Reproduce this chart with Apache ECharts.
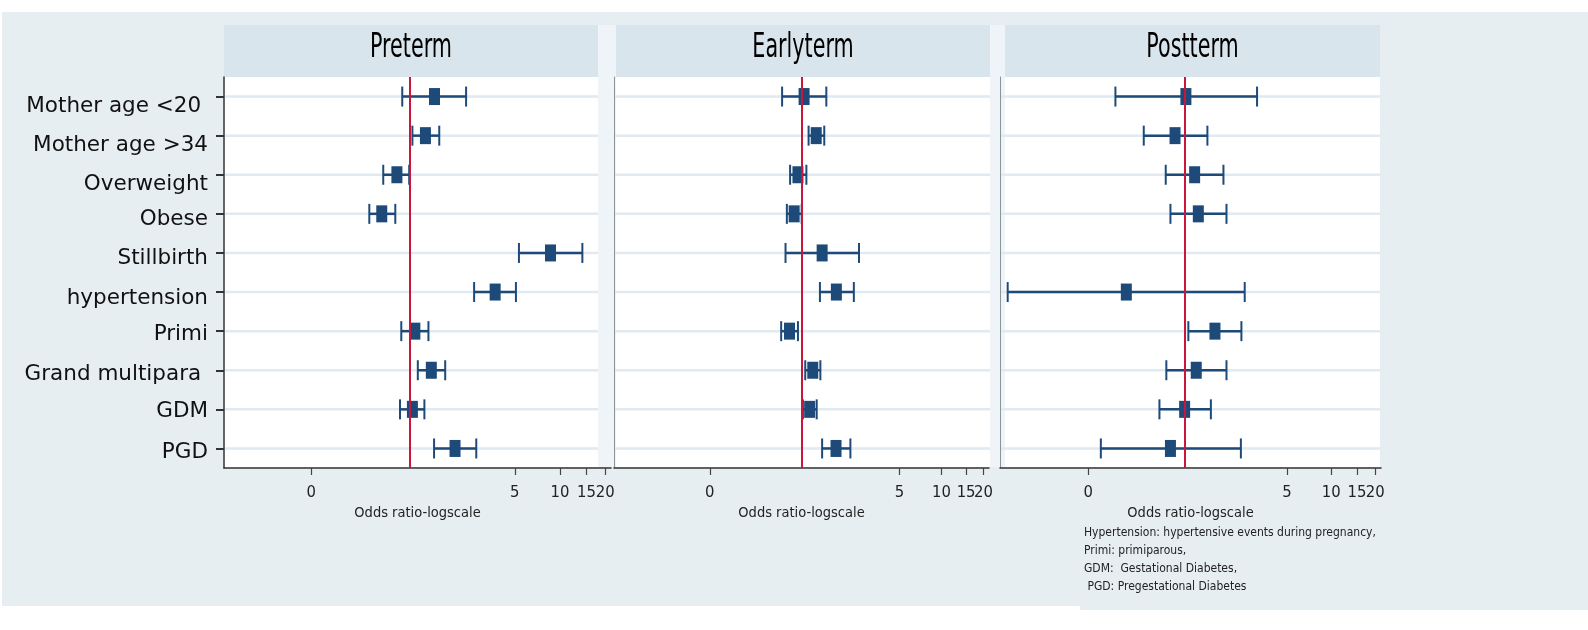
<!DOCTYPE html>
<html lang="en">

<head>
  <meta charset="UTF-8">
  <title>Odds ratios by term</title>
  <style>
    body {
      margin: 0;
      background: #fff;
    }

    #chart {
      width: 1588px;
      height: 630px;
    }
  </style>
  <script src="https://cdn.jsdelivr.net/npm/echarts@6/dist/echarts.min.js"></script>
</head>

<body>
  <div id="chart"></div>
  <script>
    // ---- data (odds ratios) ----
    var categories = ['Mother age <20 ', 'Mother age >34', 'Overweight', 'Obese', 'Stillbirth',
      'hypertension', 'Primi', 'Grand multipara ', 'GDM', 'PGD'];
    var panelTitles = ['Preterm', 'Earlyterm', 'Postterm'];

    var pretermOR = [1.46, 1.27, 0.82, 0.65, 8.65, 3.70, 1.08, 1.39, 1.04, 2.00];
    var pretermLo = [0.89, 1.04, 0.665, 0.537, 5.33, 2.68, 0.877, 1.13, 0.86, 1.45];
    var pretermHi = [2.37, 1.57, 0.99, 0.80, 14.1, 5.09, 1.33, 1.72, 1.25, 2.77];

    var earlyOR = [1.04, 1.27, 0.94, 0.883, 1.40, 1.77, 0.818, 1.20, 1.14, 1.76];
    var earlyLo = [0.724, 1.12, 0.826, 0.783, 0.766, 1.35, 0.713, 1.06, 1.02, 1.40];
    var earlyHi = [1.50, 1.45, 1.08, 1.00, 2.57, 2.36, 0.94, 1.36, 1.28, 2.23];

    var postOR = [1.02, 0.86, 1.17, 1.24, null, 0.40, 1.61, 1.20, 1.00, 0.80];
    var postLo = [0.337, 0.526, 0.743, 0.80, null, 0.062, 1.06, 0.75, 0.673, 0.268];
    var postHi = [3.12, 1.43, 1.84, 1.93, null, 2.57, 2.44, 1.93, 1.51, 2.42];

    var tickValues = [0.22, 5, 10, 15, 20];
    var tickLabels = ['0', '5', '10', '15', '20'];

    var notes = [
      'Hypertension: hypertensive events during pregnancy,',
      'Primi: primiparous,',
      'GDM:  Gestational Diabetes,',
      ' PGD: Pregestational Diabetes'
    ];

    // ---- layout / style ----
    var panels = [
      { left: 224, width: 387, min: -1.238, box: [224, 598] },
      { left: 614, width: 375, min: -1.343, box: [616, 990] },
      { left: 1000, width: 381, min: -1.26, box: [1005, 1380] }
    ];
    var xMax = 1.34;
    var gridTop = 77, gridHeight = 391;
    var labelShift = [10, 10, 10, 6, 5, 6, 3, 4, 2, 4];
    var navy = '#1d4a78';
    var narrow = '"Liberation Sans Narrow", "DejaVu Sans Condensed", "Liberation Sans", sans-serif';

    var series_ = [[pretermOR, pretermLo, pretermHi], [earlyOR, earlyLo, earlyHi], [postOR, postLo, postHi]];
    var tickLogs = tickValues.map(function (v) { return Math.log10(v); });
    // an empty label at the axis end keeps the real "20" label from being treated as the max label
    var labelLogs = tickLogs.concat([xMax]);

    function ciData(set) {
      var out = [];
      set[0].forEach(function (or, i) {
        if (or == null) return;
        out.push([Math.log10(set[1][i]), Math.log10(set[2][i]), Math.log10(or), i]);
      });
      return out;
    }

    var rich = {};
    labelShift.forEach(function (s, i) {
      rich['s' + i] = {
        fontSize: 21.5,
        fontFamily: '"DejaVu Sans", sans-serif',
        color: '#111',
        padding: [2 * s, 0, 0, 0]
      };
    });

    var grids = [], xAxes = [], yAxes = [], series = [], graphics = [];

    graphics.push({ type: 'rect', z: -10, shape: { x: 2, y: 12, width: 1586, height: 594 }, style: { fill: '#e7eef2' } });
    graphics.push({ type: 'rect', z: -10, shape: { x: 1080, y: 600, width: 508, height: 10 }, style: { fill: '#e7eef2' } });

    panels.forEach(function (p, k) {
      // light strip before panels 2 and 3
      if (k > 0) {
        var prev = panels[k - 1].box[1];
        graphics.push({ type: 'rect', z: -9, shape: { x: prev, y: 25, width: p.box[0] - prev, height: 442 }, style: { fill: '#eef4f7' } });
      }
      graphics.push({ type: 'rect', z: -8, shape: { x: p.box[0], y: 25, width: p.box[1] - p.box[0], height: 52 }, style: { fill: '#d9e5ec' } });
      graphics.push({ type: 'rect', z: -8, shape: { x: p.box[0], y: 77, width: p.box[1] - p.box[0], height: 390 }, style: { fill: '#ffffff' } });
      graphics.push({
        type: 'text', z: 5, x: (p.box[0] + p.box[1]) / 2, y: 48, scaleY: 1.5,
        style: { text: panelTitles[k], font: '23px ' + narrow, fill: '#000', textAlign: 'center', textVerticalAlign: 'middle' }
      });

      grids.push({ left: p.left, top: gridTop, width: p.width, height: gridHeight, containLabel: false });

      xAxes.push({
        type: 'value', gridIndex: k, min: p.min, max: xMax,
        splitLine: { show: false },
        axisLine: { show: true, onZero: false, lineStyle: { color: '#333', width: 1.5 } },
        axisTick: { show: true, customValues: tickLogs, length: 7, lineStyle: { color: '#444', width: 1.2 } },
        axisLabel: {
          customValues: labelLogs, margin: 16, color: '#222', fontSize: 16.5, fontFamily: narrow,
          hideOverlap: false, showMinLabel: true, showMaxLabel: false,
          formatter: function (v) {
            for (var i = 0; i < tickLogs.length; i++) {
              if (Math.abs(tickLogs[i] - v) < 1e-6) return tickLabels[i];
            }
            return '';
          }
        },
        name: 'Odds ratio-logscale', nameLocation: 'middle', nameGap: 34,
        nameTextStyle: { fontSize: 14.5, fontFamily: narrow, color: '#222' }
      });

      yAxes.push({
        type: 'category', gridIndex: k, data: categories, inverse: true,
        axisLine: { show: true, onZero: false, lineStyle: { color: k === 0 ? '#333' : '#8a9499', width: k === 0 ? 1.5 : 1 } },
        axisTick: { show: k === 0, alignWithLabel: true, length: 8, lineStyle: { color: '#333', width: 2 } },
        axisLabel: {
          show: k === 0, margin: 16,
          formatter: function (v, i) { return '{s' + i + '|' + v + '}'; },
          rich: rich
        },
        splitLine: { show: false }
      });

      // row lines + reference line at OR = 1
      series.push({
        type: 'custom', xAxisIndex: k, yAxisIndex: k, silent: true, z: 1,
        data: categories.map(function (c, i) { return [0, i]; }),
        encode: { x: 0, y: 1 },
        renderItem: function (params, api) {
          var y = api.coord([0, api.value(1)])[1];
          var cs = params.coordSys;
          return {
            type: 'line',
            shape: { x1: cs.x + 1, y1: y, x2: p.box[1], y2: y },
            style: { stroke: '#e1eaf0', lineWidth: 2.5 }
          };
        },
        markLine: {
          silent: true, symbol: ['none', 'none'], label: { show: false },
          lineStyle: { color: '#c8163c', width: 2, type: 'solid' },
          data: [{ xAxis: 0 }]
        }
      });

      // confidence intervals and point estimates
      series.push({
        type: 'custom', xAxisIndex: k, yAxisIndex: k, z: 3,
        data: ciData(series_[k]),
        encode: { x: [0, 1, 2], y: 3 },
        renderItem: function (params, api) {
          var i = api.value(3);
          var lo = api.coord([api.value(0), i]);
          var hi = api.coord([api.value(1), i]);
          var pt = api.coord([api.value(2), i]);
          var y = pt[1];
          var st = { stroke: navy, lineWidth: 2.5 };
          return {
            type: 'group',
            children: [
              { type: 'line', shape: { x1: lo[0], y1: y, x2: hi[0], y2: y }, style: st },
              { type: 'line', shape: { x1: lo[0], y1: y - 10, x2: lo[0], y2: y + 10 }, style: { stroke: navy, lineWidth: 2 } },
              { type: 'line', shape: { x1: hi[0], y1: y - 10, x2: hi[0], y2: y + 10 }, style: { stroke: navy, lineWidth: 2 } },
              { type: 'rect', shape: { x: pt[0] - 5.5, y: y - 8.5, width: 11, height: 17 }, style: { fill: navy } }
            ]
          };
        }
      });
    });

    notes.forEach(function (t, i) {
      graphics.push({
        type: 'text', z: 5, x: 1084, y: 533 + i * 18,
        style: { text: t, font: '12px ' + narrow, fill: '#222', textAlign: 'left', textVerticalAlign: 'middle' }
      });
    });

    var chart = echarts.init(document.getElementById('chart'));
    chart.setOption({
      animation: false,
      grid: grids,
      xAxis: xAxes,
      yAxis: yAxes,
      series: series,
      graphic: graphics
    });
  </script>
</body>

</html>
